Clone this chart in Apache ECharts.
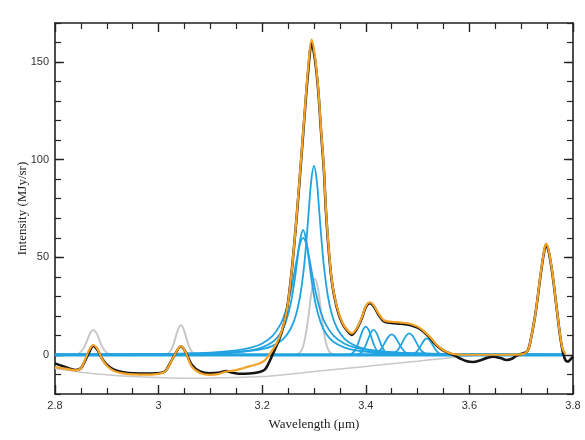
<!DOCTYPE html>
<html>
<head>
<meta charset="utf-8">
<script src="https://cdn.jsdelivr.net/npm/echarts@6/dist/echarts.min.js"></script>
<style>
html,body{margin:0;padding:0;background:#fff;}
#chart{width:585px;height:440px;}
</style>
</head>
<body>
<div id="chart"></div>
<script>
// ---- data (wavelength in micron, intensity in MJy/sr) ----
const xTicks = [2.8, 3, 3.2, 3.4, 3.6, 3.8];
const yLabelValues = [0, 50, 100, 150];

const observed = [[2.80,-4.3],[2.82,-6.2],[2.84,-7.7],[2.85,-6.8],[2.858,-3],[2.866,1.5],[2.874,4.6],[2.882,2.5],[2.89,-1.5],[2.90,-5],[2.915,-7.7],[2.935,-9],[2.955,-9.4],[2.975,-9.5],[2.995,-9.4],[3.012,-8.5],[3.022,-4.3],[3.032,0.5],[3.043,4.3],[3.052,1.5],[3.064,-5],[3.08,-8.5],[3.099,-9.4],[3.115,-9.2],[3.131,-8.3],[3.142,-9],[3.155,-9.6],[3.175,-9.5],[3.195,-8.7],[3.205,-7.5],[3.212,-4.5],[3.218,-1],[3.228,5],[3.238,12],[3.247,22],[3.255,38],[3.262,57],[3.27,82],[3.281,120],[3.289,146],[3.2955,159.5],[3.302,151],[3.308,136],[3.314,113],[3.319,95],[3.323,74],[3.328,55],[3.334,38.5],[3.34,29],[3.347,21.4],[3.355,16],[3.363,12.8],[3.373,10.3],[3.382,13],[3.392,18.5],[3.40,24.5],[3.408,26.5],[3.415,25],[3.425,20.5],[3.435,17.2],[3.45,16.4],[3.468,16],[3.485,15.4],[3.50,14],[3.511,12],[3.524,8.7],[3.534,5.5],[3.543,3.5],[3.553,1.8],[3.563,0.7],[3.573,-0.5],[3.582,-1.8],[3.595,-3.2],[3.607,-3.6],[3.62,-2.8],[3.634,-1.5],[3.646,-0.9],[3.66,-1.6],[3.672,-2.6],[3.683,-1.8],[3.691,-0.3],[3.70,0.5],[3.712,2],[3.72,10],[3.728,22],[3.736,38],[3.743,51],[3.748,56.4],[3.753,53],[3.76,42],[3.768,25],[3.775,10],[3.78,2],[3.785,-2.5],[3.79,-3.4],[3.796,-2],[3.80,-0.8]];

const fitTotal = [[2.80,-6.2],[2.82,-7],[2.84,-7.9],[2.85,-6.8],[2.858,-2.5],[2.866,2.5],[2.874,5.1],[2.882,3],[2.89,-1.5],[2.90,-5.5],[2.915,-8.3],[2.935,-9.6],[2.955,-10],[2.975,-10.1],[2.995,-9.8],[3.012,-8.7],[3.022,-4.5],[3.032,0.5],[3.043,4.5],[3.052,1.5],[3.064,-6],[3.08,-9.2],[3.099,-10.2],[3.115,-9.8],[3.131,-8.5],[3.145,-8],[3.163,-6.8],[3.18,-5.5],[3.196,-4.2],[3.205,-2.8],[3.212,-0.5],[3.218,1.8],[3.228,6],[3.238,12.5],[3.247,22],[3.255,38],[3.262,57],[3.27,83],[3.281,121],[3.289,148],[3.2955,161.5],[3.302,152.5],[3.308,137],[3.314,114],[3.319,96],[3.323,75],[3.328,56],[3.334,39],[3.34,29.5],[3.347,22],[3.355,16.5],[3.363,13.2],[3.373,11],[3.382,13.5],[3.392,19],[3.40,25],[3.408,27],[3.415,25.5],[3.425,21],[3.435,17.8],[3.45,17],[3.468,16.6],[3.485,16],[3.50,14.5],[3.511,12.5],[3.524,9.2],[3.534,6],[3.543,3.8],[3.553,2],[3.563,0.9],[3.575,0.3],[3.59,0.1],[3.62,0.1],[3.66,0.1],[3.70,0.3],[3.712,2],[3.72,10],[3.728,22],[3.736,38.5],[3.743,51.5],[3.748,57],[3.753,53.5],[3.76,42.5],[3.768,25],[3.775,10.5],[3.78,3],[3.786,0.5]];

const continuum = [[2.80,-7],[2.85,-8.8],[2.90,-10.2],[2.95,-11.1],[3.00,-11.6],[3.05,-11.9],[3.10,-11.8],[3.15,-11.5],[3.20,-11.1],[3.25,-9.9],[3.30,-8.5],[3.35,-7.2],[3.40,-5.9],[3.45,-4.5],[3.50,-3.2],[3.55,-1.8],[3.60,-0.4],[3.62,0],[3.78,0]];

const grayBand287 = [[2.835,0],[2.845,0.5],[2.855,3.3],[2.862,7.4],[2.868,11.2],[2.874,12.8],[2.880,11.2],[2.886,7.4],[2.893,3.3],[2.903,0.5],[2.913,0]];
const grayBand304 = [[3.011,0],[3.018,0.7],[3.023,2.1],[3.028,4.9],[3.033,9.2],[3.038,13.4],[3.043,15.2],[3.048,13.4],[3.053,9.2],[3.058,4.9],[3.063,2.1],[3.068,0.7],[3.075,0]];
const grayBand330 = [[3.267,0],[3.275,1.9],[3.28,5.3],[3.285,11.9],[3.29,21.3],[3.296,33.4],[3.302,39],[3.308,33.4],[3.314,21.3],[3.319,11.9],[3.324,5.3],[3.329,1.9],[3.337,0]];

const blue328a = [[2.80,0.11],[3.00,0.33],[3.10,0.79],[3.15,1.5],[3.18,2.5],[3.20,3.9],[3.22,6.6],[3.235,11.0],[3.245,16.5],[3.255,26.2],[3.262,37.2],[3.268,49.1],[3.273,58.7],[3.279,64],[3.285,58.7],[3.29,49.1],[3.296,37.2],[3.303,26.2],[3.313,16.5],[3.323,11.0],[3.338,6.6],[3.358,3.9],[3.378,2.5],[3.408,1.5],[3.458,0.79],[3.558,0.33],[3.78,0.1]];
const blue328b = [[2.80,0.18],[3.00,0.52],[3.10,1.24],[3.15,2.34],[3.18,3.87],[3.20,5.87],[3.22,9.76],[3.235,15.5],[3.245,22.1],[3.255,32.4],[3.262,42.0],[3.268,50.9],[3.273,57.0],[3.279,60],[3.285,57.0],[3.29,50.9],[3.296,42.0],[3.303,32.4],[3.313,22.1],[3.323,15.5],[3.338,9.76],[3.358,5.87],[3.378,3.87],[3.408,2.34],[3.458,1.24],[3.558,0.52],[3.78,0.17]];
const blue330 = [[2.80,0.13],[3.00,0.35],[3.10,0.78],[3.15,1.38],[3.20,3.04],[3.22,4.67],[3.24,8.0],[3.255,13.4],[3.265,20.3],[3.273,29.8],[3.28,43.4],[3.285,57.3],[3.29,74.1],[3.295,90.0],[3.30,97],[3.305,90.0],[3.31,74.1],[3.315,57.3],[3.32,43.4],[3.327,29.8],[3.335,20.3],[3.345,13.4],[3.36,8.0],[3.38,4.67],[3.40,3.04],[3.45,1.38],[3.50,0.78],[3.60,0.35],[3.78,0.13]];
const blue340 = [[3.36,0],[3.367,0.16],[3.3725,0.64],[3.378,1.96],[3.3835,4.71],[3.389,8.79],[3.3945,12.8],[3.40,14.5],[3.4055,12.8],[3.411,8.79],[3.4165,4.71],[3.422,1.96],[3.4275,0.64],[3.433,0.16],[3.44,0]];
const blue342 = [[3.375,0],[3.382,0.14],[3.3875,0.56],[3.393,1.73],[3.3985,4.16],[3.404,7.76],[3.4095,11.3],[3.415,12.8],[3.4205,11.3],[3.426,7.76],[3.4315,4.16],[3.437,1.73],[3.4425,0.56],[3.448,0.14],[3.455,0]];
const blue345 = [[3.403,0],[3.411,0.12],[3.4175,0.46],[3.424,1.42],[3.4305,3.41],[3.437,6.37],[3.4435,9.27],[3.45,10.5],[3.4565,9.27],[3.463,6.37],[3.4695,3.41],[3.476,1.42],[3.4825,0.46],[3.489,0.12],[3.497,0]];
const blue348 = [[3.437,0],[3.445,0.12],[3.4515,0.48],[3.458,1.49],[3.4645,3.57],[3.471,6.67],[3.4775,9.71],[3.484,11.0],[3.4905,9.71],[3.497,6.67],[3.5035,3.57],[3.51,1.49],[3.5165,0.48],[3.523,0.12],[3.531,0]];
const blue352 = [[3.478,0],[3.485,0.09],[3.4905,0.37],[3.496,1.15],[3.5015,2.76],[3.507,5.16],[3.5125,7.5],[3.518,8.5],[3.5235,7.5],[3.529,5.16],[3.5345,2.76],[3.54,1.15],[3.5455,0.37],[3.551,0.09],[3.558,0]];
const zeroLine = [[2.80,0],[3.78,0]];

// ---- styles ----
const BLACK = '#151515', ORANGE = '#f2a227', BLUE = '#21a3e2', GRAY = '#c8c8c8', AXIS = '#222';
const serif = '"Liberation Serif", "DejaVu Serif", serif';
const sans = '"Liberation Sans", Arial, sans-serif';

function line(data, color, width, z) {
  return { type: 'line', data: data, showSymbol: false, symbol: 'none', smooth: 0.35,
    xAxisIndex: 0, yAxisIndex: 0, z: z, silent: true,
    lineStyle: { color: color, width: width } };
}

const series = [
  line(continuum, GRAY, 1.5, 2),
  line(grayBand287, GRAY, 2, 2),
  line(grayBand304, GRAY, 2, 2),
  line(grayBand330, GRAY, 2, 2),
  line(blue328a, BLUE, 1.8, 3),
  line(blue328b, BLUE, 1.8, 3),
  line(blue330, BLUE, 1.8, 3),
  line(blue340, BLUE, 1.8, 3),
  line(blue342, BLUE, 1.8, 3),
  line(blue345, BLUE, 1.8, 3),
  line(blue348, BLUE, 1.8, 3),
  line(blue352, BLUE, 1.8, 3),
  line(zeroLine, BLUE, 3.2, 3),
  line(observed, BLACK, 2.6, 4),
  line(fitTotal, ORANGE, 2.2, 5)
];

const yBase = { type: 'value', min: -20, max: 170, splitLine: { show: false } };
const xBase = { type: 'value', min: 2.8, max: 3.8, interval: 0.2, splitLine: { show: false } };

const option = {
  animation: false,
  backgroundColor: '#fff',
  grid: { left: 55, right: 12, top: 23, bottom: 46, containLabel: false },
  xAxis: [
    Object.assign({}, xBase, {
      position: 'bottom',
      axisLine: { show: true, onZero: false, lineStyle: { color: AXIS, width: 1.6 } },
      axisTick: { show: true, inside: true, length: 9, lineStyle: { color: AXIS, width: 1.4 } },
      minorTick: { show: true, splitNumber: 4, length: 6, lineStyle: { color: AXIS, width: 1.2 } },
      axisLabel: { show: true, margin: 6, color: '#333', fontFamily: sans, fontSize: 11,
        customValues: xTicks, formatter: v => String(+v.toFixed(1)) },
      name: 'Wavelength (\u03bcm)', nameLocation: 'middle', nameGap: 24, nameMoveOverlap: false,
      nameTextStyle: { fontFamily: serif, fontSize: 13, color: '#222' }
    }),
    Object.assign({}, xBase, {
      position: 'top',
      axisLine: { show: true, onZero: false, lineStyle: { color: AXIS, width: 1.6 } },
      axisTick: { show: true, inside: true, length: 9, lineStyle: { color: AXIS, width: 1.4 } },
      minorTick: { show: true, splitNumber: 4, length: 6, lineStyle: { color: AXIS, width: 1.2 } },
      axisLabel: { show: false }
    })
  ],
  yAxis: [
    Object.assign({}, yBase, {
      position: 'left', interval: 10,
      axisLine: { show: true, onZero: false, lineStyle: { color: AXIS, width: 1.6 } },
      axisTick: { show: true, inside: true, length: 6, lineStyle: { color: AXIS, width: 1.2 } },
      axisLabel: { show: true, margin: 6, color: '#333', fontFamily: sans, fontSize: 11,
        customValues: yLabelValues },
      name: 'Intensity (MJy/sr)', nameLocation: 'middle', nameGap: 26, nameRotate: 90,
      nameMoveOverlap: false,
      nameTextStyle: { fontFamily: serif, fontSize: 13, color: '#222' }
    }),
    Object.assign({}, yBase, {
      position: 'left', interval: 10,
      axisLine: { show: false, onZero: false },
      axisTick: { show: true, inside: true, length: 9, customValues: yLabelValues,
        lineStyle: { color: AXIS, width: 1.4 } },
      axisLabel: { show: false }
    }),
    Object.assign({}, yBase, {
      position: 'right', interval: 10,
      axisLine: { show: true, onZero: false, lineStyle: { color: AXIS, width: 1.6 } },
      axisTick: { show: true, inside: true, length: 6, lineStyle: { color: AXIS, width: 1.2 } },
      axisLabel: { show: false }
    }),
    Object.assign({}, yBase, {
      position: 'right', interval: 10,
      axisLine: { show: false, onZero: false },
      axisTick: { show: true, inside: true, length: 9, customValues: yLabelValues,
        lineStyle: { color: AXIS, width: 1.4 } },
      axisLabel: { show: false }
    })
  ],
  series: series
};

const chart = echarts.init(document.getElementById('chart'), null, { renderer: 'canvas' });
chart.setOption(option);
</script>
</body>
</html>
